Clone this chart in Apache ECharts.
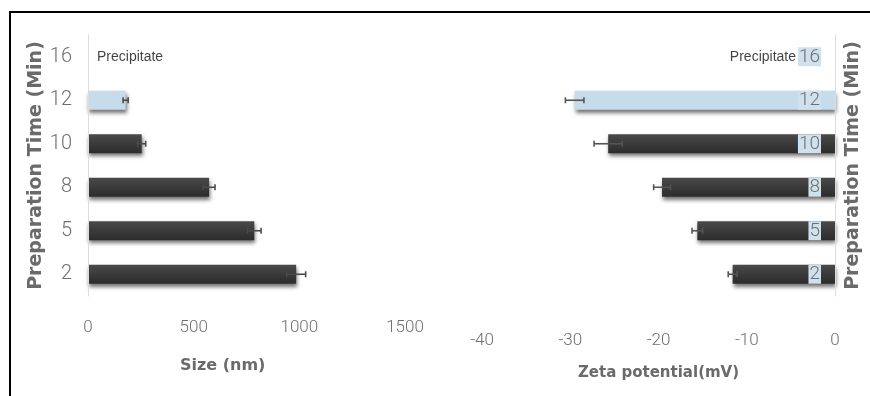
<!DOCTYPE html>
<html>
<head>
<meta charset="utf-8">
<script src="https://cdn.jsdelivr.net/npm/echarts@6/dist/echarts.min.js"></script>
<style>
  html, body { margin: 0; padding: 0; background: #fff; }
  #chart { width: 870px; height: 396px; }
</style>
</head>
<body>
<div id="chart"></div>
<script>
// Preparation time categories (bottom to top)
const times = ['2', '5', '8', '10', '12', '16'];
// Particle size (nm) and its error, per preparation time
const sizeValues = [985, 787, 573, 254, 178, null];
const sizeErrors = [45, 32, 28, 19, 12, null];
// Zeta potential (mV) and its error, per preparation time
const zetaValues = [-11.6, -15.6, -19.6, -25.7, -29.5, null];
const zetaErrors = [0.5, 0.6, 0.95, 1.6, 1.05, null];
// Notes for samples that could not be measured
const notes = ['', '', '', '', '', 'Precipitate'];
// Axis ticks
const sizeTicks = [0, 500, 1000, 1500];
const zetaTicks = [-40, -30, -20, -10, 0];

const highlightTime = '12';
const darkBar = new echarts.graphic.LinearGradient(0, 0, 0, 1, [
  { offset: 0, color: '#4a4a4a' }, { offset: 0.5, color: '#3a3a3a' }, { offset: 1, color: '#2c2c2c' }
]);
const lightBar = '#c7dcea';

function barData(values) {
  return values.map((v, i) => ({
    value: v,
    itemStyle: { color: times[i] === highlightTime ? lightBar : darkBar }
  }));
}
function errData(values, errs) {
  return values.map((v, i) => v == null ? null : [i, v, errs[i]]).filter(d => d);
}
function errorRenderer(color) {
  return function (params, api) {
    const cat = api.value(0), v = api.value(1), e = api.value(2);
    const lo = api.coord([v - e, cat]);
    const hi = api.coord([v + e, cat]);
    const h = 3;
    const style = { stroke: color, lineWidth: 1.6 };
    return {
      type: 'group',
      children: [
        { type: 'line', shape: { x1: lo[0], y1: lo[1], x2: hi[0], y2: hi[1] }, style },
        { type: 'line', shape: { x1: lo[0], y1: lo[1] - h, x2: lo[0], y2: lo[1] + h }, style },
        { type: 'line', shape: { x1: hi[0], y1: hi[1] - h, x2: hi[0], y2: hi[1] + h }, style }
      ]
    };
  };
}

const thin = { fontFamily: 'Roboto', fontWeight: 300, color: '#6f6f6f' };
const axisTitle = { fontFamily: 'DejaVu Sans', fontWeight: 'bold', color: '#6a6a6a' };
const noteFont = { fontFamily: 'Liberation Sans Narrow, Liberation Sans', fontSize: 14, color: '#111' };

const barStyle = {
  shadowColor: 'rgba(0,0,0,0.55)', shadowBlur: 4, shadowOffsetY: 3, shadowOffsetX: 1
};

const chart = echarts.init(document.getElementById('chart'), null, { renderer: 'canvas' });
chart.setOption({
  animation: false,
  backgroundColor: '#fff',
  grid: [
    { left: 88, top: 35, width: 317, height: 261 },
    { left: 482, top: 35, width: 353, height: 261 }
  ],
  xAxis: [
    {
      gridIndex: 0, type: 'value', min: 0, max: 1500, interval: 500,
      axisLine: { show: false }, axisTick: { show: false }, splitLine: { show: false },
      axisLabel: Object.assign({ fontSize: 17, margin: 23, formatter: v => sizeTicks.includes(v) ? String(v) : '' }, thin)
    },
    {
      gridIndex: 1, type: 'value', min: -40, max: 0, interval: 10,
      axisLine: { show: false }, axisTick: { show: false }, splitLine: { show: false },
      name: 'Zeta potential(mV)', nameLocation: 'middle', nameGap: 70,
      nameTextStyle: Object.assign({ fontSize: 15 }, axisTitle),
      axisLabel: Object.assign({ fontSize: 17, margin: 36, formatter: v => zetaTicks.includes(v) ? String(v) : '' }, thin)
    }
  ],
  yAxis: [
    {
      gridIndex: 0, type: 'category', data: times, z: 10,
      axisLine: { show: true, lineStyle: { color: '#dcdcdc', width: 1 } },
      axisTick: { show: false },
      name: 'Preparation Time (Min)', nameLocation: 'middle', nameGap: 42, nameRotate: 90,
      nameTextStyle: Object.assign({ fontSize: 19 }, axisTitle),
      axisLabel: Object.assign({ fontSize: 20, margin: 16 }, thin)
    },
    {
      gridIndex: 1, type: 'category', data: times, position: 'right', z: 10,
      axisLine: { show: true, lineStyle: { color: '#dcdcdc', width: 1 } },
      axisTick: { show: false },
      name: 'Preparation Time (Min)', nameLocation: 'middle', nameGap: 9, nameRotate: 90,
      nameTextStyle: Object.assign({ fontSize: 19, verticalAlign: 'top' }, axisTitle),
      axisLabel: Object.assign({
        inside: true, fontSize: 19, margin: 14,
        backgroundColor: '#cfe1ed', padding: [0, 1, 0, 1]
      }, thin)
    }
  ],
  series: [
    {
      type: 'bar', xAxisIndex: 0, yAxisIndex: 0, barWidth: 19,
      data: barData(sizeValues), itemStyle: barStyle
    },
    {
      type: 'custom', xAxisIndex: 0, yAxisIndex: 0, z: 5,
      renderItem: errorRenderer('#4a4a4a'), data: errData(sizeValues, sizeErrors)
    },
    {
      type: 'scatter', xAxisIndex: 0, yAxisIndex: 0, symbolSize: 0,
      data: notes.map((n, i) => n ? [0, i] : null).filter(d => d),
      label: Object.assign({ show: true, position: 'right', distance: 9, formatter: p => notes[p.value[1]] }, noteFont)
    },
    {
      type: 'bar', xAxisIndex: 1, yAxisIndex: 1, barWidth: 19,
      data: barData(zetaValues), itemStyle: barStyle
    },
    {
      type: 'custom', xAxisIndex: 1, yAxisIndex: 1, z: 5,
      renderItem: errorRenderer('#555'), data: errData(zetaValues, zetaErrors)
    },
    {
      type: 'scatter', xAxisIndex: 1, yAxisIndex: 1, symbolSize: 0,
      data: notes.map((n, i) => n ? [0, i] : null).filter(d => d),
      label: Object.assign({ show: true, position: 'left', distance: 39, formatter: p => notes[p.value[1]] }, noteFont)
    }
  ],
  graphic: [
    {
      type: 'text', left: 180, top: 358,
      style: { text: 'Size (nm)', fontSize: 16, fill: '#6a6a6a', fontFamily: 'DejaVu Sans', fontWeight: 'bold' }
    },
    { type: 'line', shape: { x1: 9, y1: 12, x2: 870, y2: 12 }, style: { stroke: '#000', lineWidth: 2 } },
    { type: 'line', shape: { x1: 10, y1: 12, x2: 10, y2: 396 }, style: { stroke: '#000', lineWidth: 2 } }
  ]
});
</script>
</body>
</html>
